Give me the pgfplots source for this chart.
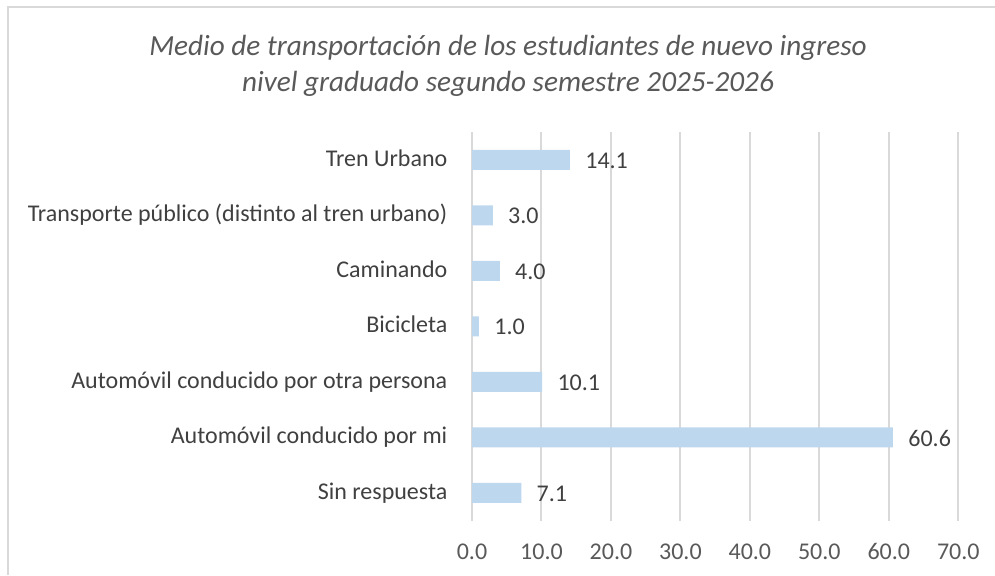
\documentclass[border=0pt]{standalone}
\usepackage{fontspec}
\setmainfont{Carlito}
\usepackage{pgfplots}
\pgfplotsset{compat=1.18}
\definecolor{barc}{HTML}{BDD7EE}
\definecolor{gridc}{HTML}{D9D9D9}
\definecolor{txtc}{HTML}{404040}
\definecolor{tickc}{HTML}{595959}
\begin{document}
\begin{tikzpicture}
\path[use as bounding box] (0,0) rectangle (497.5pt,287.5pt);
\draw[gridc, line width=1pt] (4pt,0) -- (4pt,284pt) -- (497.5pt,284pt);
\node[anchor=base, inner sep=0, text=tickc, font=\fontsize{14.6}{16}\selectfont\itshape] at (254pt,260pt) {Medio de transportación de los estudiantes de nuevo ingreso};
\node[anchor=base, inner sep=0, text=tickc, font=\fontsize{14.6}{16}\selectfont\itshape] at (254pt,241.65pt) {nivel graduado segundo semestre 2025-2026};
\begin{axis}[
  at={(236pt,27.15pt)}, anchor=south west,
  width=243.15pt, height=194.35pt, scale only axis,
  xbar, bar width=10pt,
  xmin=0, xmax=70, ymin=-0.5, ymax=6.5,
  xtick={0,10,...,70},
  ytick={0,...,6},
  yticklabels={Sin respuesta, Automóvil conducido por mi, Automóvil conducido por otra persona, Bicicleta, Caminando, Transporte público (distinto al tren urbano), Tren Urbano},
  /pgf/number format/assume math mode=true,
  xticklabel={\pgfmathprintnumber[fixed,fixed zerofill,precision=1]{\tick}},
  xmajorgrids, grid style={gridc, line width=1pt},
  axis line style={draw=none},
  major tick length=0pt,
  tick style={draw=none},
  xticklabel style={anchor=base, inner sep=0pt, yshift=-19.3pt, text=tickc, font=\fontsize{12}{13}\selectfont},
  yticklabel style={anchor=base east, inner sep=0pt, xshift=-12.15pt, yshift=-3.15pt, text=txtc, font=\fontsize{12}{13}\selectfont},
  nodes near coords={\pgfmathprintnumber[fixed,fixed zerofill,precision=1]{\pgfplotspointmeta}},
  nodes near coords style={anchor=base west, inner sep=0pt, xshift=7.5pt, yshift=-4.3pt, text=txtc, font=\fontsize{12}{13}\selectfont},
]
\addplot[fill=barc, draw=none] coordinates {(7.1,0) (60.6,1) (10.1,2) (1.0,3) (4.0,4) (3.0,5) (14.1,6)};
\end{axis}
\end{tikzpicture}
\end{document}
